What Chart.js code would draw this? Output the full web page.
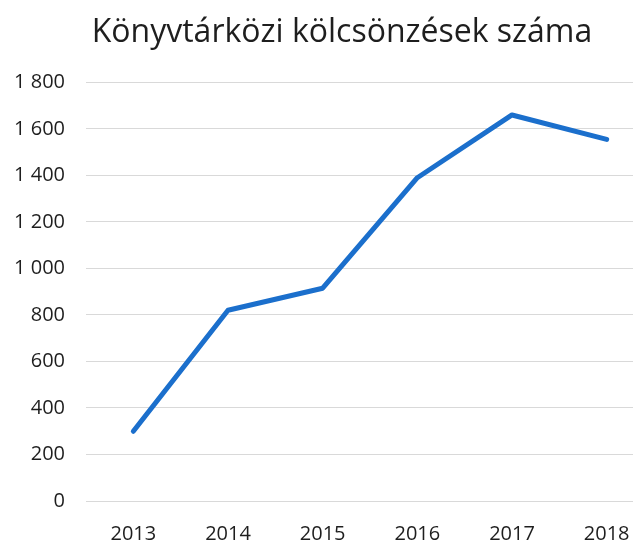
<!DOCTYPE html>
<html>
<head>
<meta charset="utf-8">
<script src="https://cdn.jsdelivr.net/npm/chart.js@4/dist/chart.umd.min.js"></script>
<style>
  html, body { margin: 0; padding: 0; background: #fff; overflow: hidden; }
  #wrap { width: 633px; height: 553px; overflow: hidden; position: relative; }
  #box { position: absolute; left: 0; top: 0; width: 680px; height: 553px; }
</style>
</head>
<body>
<div id="wrap"><div id="box"><canvas id="kolcsonzes"></canvas></div></div>
<script>
// Data
const years = ["2013", "2014", "2015", "2016", "2017", "2018"];
const loans = [300, 820, 915, 1390, 1660, 1555];
const yTicks = [0, 200, 400, 600, 800, 1000, 1200, 1400, 1600, 1800];

const textColor = "#1e1e1e";
const fontFamily = "'Open Sans', sans-serif";

// space as thousands separator, like the original
function formatHu(v) {
  return String(v).replace(/\B(?=(\d{3})+(?!\d))/g, " ");
}

// the title sits a bit right of the canvas centre in the original
const titleShift = {
  id: 'titleShift',
  afterLayout(chart) {
    if (chart.titleBlock) {
      chart.titleBlock.left += 15;
      chart.titleBlock.right += 15;
    }
  }
};

const chart = new Chart(document.getElementById("kolcsonzes"), {
  type: 'line',
  data: {
    labels: years,
    datasets: [
      {
        label: "Könyvtárközi kölcsönzések",
        data: loans,
        borderColor: "#1b6fcc",
        borderWidth: 5,
        pointRadius: 0,
        borderCapStyle: 'round',
        borderJoinStyle: 'round',
        fill: false,
        tension: 0
      }
    ]
  },
  options: {
    responsive: true,
    maintainAspectRatio: false,
    animation: false,
    layout: { padding: { left: 0, right: 26, top: 0, bottom: 0 } },
    plugins: {
      legend: { display: false },
      tooltip: { enabled: false },
      title: {
        display: true,
        text: "Könyvtárközi kölcsönzések száma",
        color: textColor,
        font: { family: fontFamily, size: 32, weight: 'normal' },
        padding: { top: 14, bottom: 30 }
      }
    },
    scales: {
      x: {
        offset: true,
        grid: { display: false, drawTicks: false },
        border: { display: false },
        ticks: { color: textColor, font: { family: fontFamily, size: 20 }, padding: 21, maxRotation: 0 },
        afterFit: (scale) => { scale.height = 52; }
      },
      y: {
        min: 0,
        max: 1800,
        afterBuildTicks: (scale) => { scale.ticks = yTicks.map(v => ({ value: v })); },
        grid: { color: "#d9d9d9", lineWidth: 1, drawTicks: false },
        border: { display: false },
        ticks: {
          color: textColor,
          font: { family: fontFamily, size: 20 },
          padding: 21,
          callback: (v) => formatHu(v)
        },
        afterFit: (scale) => { scale.width = 86; }
      }
    }
  },
  plugins: [titleShift]
});
</script>
</body>
</html>
